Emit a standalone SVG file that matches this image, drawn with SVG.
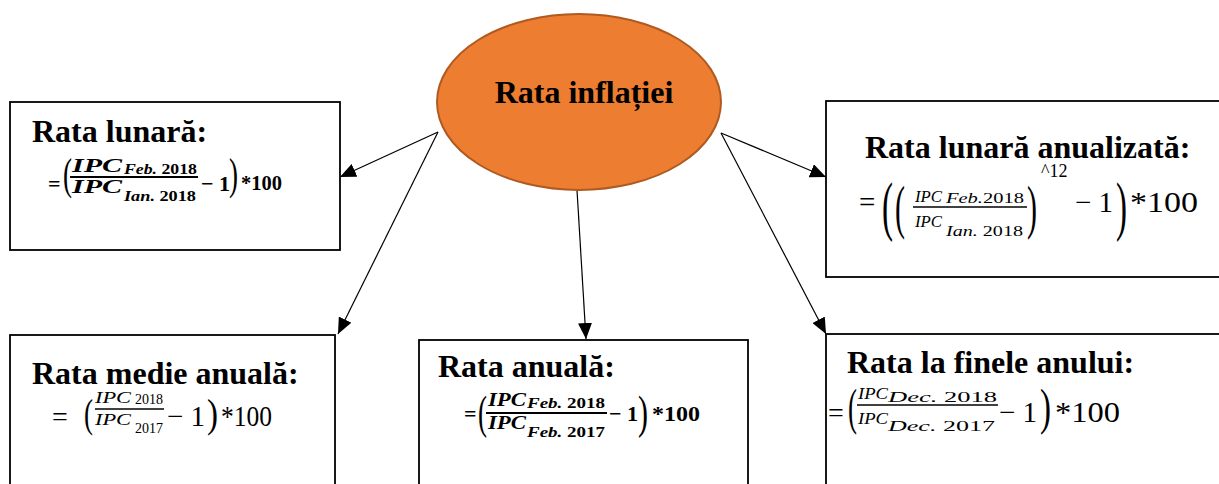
<svg xmlns="http://www.w3.org/2000/svg" width="1219" height="484" viewBox="0 0 1219 484">
<style>
.box{fill:#fff;stroke:#000;stroke-width:1.8}
.title{font-family:"Liberation Serif","Times New Roman",Times,"DejaVu Serif",serif;font-weight:bold;font-size:32px;fill:#000}
.m{font-family:"Liberation Serif","Times New Roman",Times,"DejaVu Serif",serif;fill:#000}
.b{font-weight:bold}
.i{font-style:italic}
.frac{stroke:#000;stroke-width:1.4}
.fracb{stroke:#000;stroke-width:2}
.conn line{stroke:#000;stroke-width:1.2;fill:none}
</style>
<defs>
<marker id="ah" markerUnits="userSpaceOnUse" markerWidth="17" markerHeight="14" refX="16" refY="7" orient="auto">
<path d="M0,0 L16,7 L0,14 z" fill="#000"/>
</marker>
</defs>
<rect width="1219" height="484" fill="#fff"/>

<g id="connectors" class="conn">
<line x1="438" y1="132" x2="340" y2="177" marker-end="url(#ah)"/>
<line x1="438" y1="132" x2="338" y2="334" marker-end="url(#ah)"/>
<line x1="577" y1="190" x2="586" y2="339" marker-end="url(#ah)"/>
<line x1="721" y1="133" x2="826" y2="177" marker-end="url(#ah)"/>
<line x1="721" y1="133" x2="826" y2="334" marker-end="url(#ah)"/>
</g>

<g id="center">
<ellipse cx="579" cy="102" rx="142" ry="88" fill="#ED7D31" stroke="#AE5A21" stroke-width="2"/>
<text class="title" x="584" y="103" text-anchor="middle" font-family="Liberation Serif, serif">Rata inflației</text>
</g>

<g id="rata-lunara">
<rect class="box" x="10" y="102" width="330" height="148"/>
<text class="title" x="32" y="142">Rata lunară:</text>
<text class="m b" x="48" y="191" font-size="22">=</text>
<text class="m" x="63" y="189" font-size="45" textLength="9" lengthAdjust="spacingAndGlyphs">(</text>
<text class="m b i" x="72" y="172" font-size="19" textLength="50" lengthAdjust="spacingAndGlyphs">IPC</text>
<text class="m b" x="124" y="174" font-size="14" textLength="73" lengthAdjust="spacingAndGlyphs"><tspan class="i">Feb.</tspan> 2018</text>
<line class="fracb" x1="70" y1="177" x2="198" y2="177"/>
<text class="m b i" x="72" y="193" font-size="19" textLength="50" lengthAdjust="spacingAndGlyphs">IPC</text>
<text class="m b" x="124" y="201" font-size="14" textLength="72" lengthAdjust="spacingAndGlyphs"><tspan class="i">Ian.</tspan> 2018</text>
<text class="m b" x="201" y="191" font-size="22">− 1</text>
<text class="m" x="229" y="189" font-size="45" textLength="9" lengthAdjust="spacingAndGlyphs">)</text>
<text class="m b" x="241" y="190" font-size="22" textLength="41" lengthAdjust="spacingAndGlyphs">*100</text>
</g>

<g id="rata-lunara-anualizata">
<rect class="box" x="826" y="101" width="400" height="176"/>
<text class="title" x="865" y="158">Rata lunară anualizată:</text>
<text class="m" x="859" y="212" font-size="29">=</text>
<text class="m" x="882" y="228" font-size="66" textLength="11" lengthAdjust="spacingAndGlyphs">(</text>
<text class="m" x="895" y="227" font-size="60" textLength="10" lengthAdjust="spacingAndGlyphs">(</text>
<text class="m i" x="915" y="202" font-size="17" textLength="27" lengthAdjust="spacingAndGlyphs">IPC</text>
<text class="m" x="946" y="203" font-size="15" textLength="78" lengthAdjust="spacingAndGlyphs"><tspan class="i">Feb.</tspan>2018</text>
<line class="frac" x1="913" y1="207" x2="1027" y2="207"/>
<text class="m i" x="915" y="227" font-size="17" textLength="27" lengthAdjust="spacingAndGlyphs">IPC</text>
<text class="m" x="946" y="236" font-size="15" textLength="77" lengthAdjust="spacingAndGlyphs"><tspan class="i">Ian.</tspan> 2018</text>
<text class="m" x="1027" y="227" font-size="60" textLength="10" lengthAdjust="spacingAndGlyphs">)</text>
<text class="m" x="1041" y="177" font-size="18">^12</text>
<text class="m" x="1075" y="212" font-size="29">− 1</text>
<text class="m" x="1116" y="228" font-size="66" textLength="11" lengthAdjust="spacingAndGlyphs">)</text>
<text class="m" x="1130" y="212" font-size="29" textLength="68" lengthAdjust="spacingAndGlyphs">*100</text>
</g>

<g id="rata-medie-anuala">
<rect class="box" x="10" y="335" width="325" height="160"/>
<text class="title" x="32" y="384">Rata medie anuală:</text>
<text class="m" x="52" y="426" font-size="28">=</text>
<text class="m" x="84" y="427" font-size="40" textLength="9" lengthAdjust="spacingAndGlyphs">(</text>
<text class="m i" x="95" y="403" font-size="16" textLength="36" lengthAdjust="spacingAndGlyphs">IPC</text>
<text class="m" x="135" y="404" font-size="14" textLength="28" lengthAdjust="spacingAndGlyphs">2018</text>
<line class="frac" x1="95" y1="409" x2="164" y2="409"/>
<text class="m i" x="95" y="425" font-size="16" textLength="36" lengthAdjust="spacingAndGlyphs">IPC</text>
<text class="m" x="135" y="433" font-size="14" textLength="28" lengthAdjust="spacingAndGlyphs">2017</text>
<text class="m" x="167" y="426" font-size="29">− 1</text>
<text class="m" x="207" y="427" font-size="40" textLength="11" lengthAdjust="spacingAndGlyphs">)</text>
<text class="m" x="221" y="426" font-size="29" textLength="51" lengthAdjust="spacingAndGlyphs">*100</text>
</g>

<g id="rata-anuala">
<rect class="box" x="419" y="340" width="329" height="160"/>
<text class="title" x="438" y="377">Rata anuală:</text>
<text class="m b" x="464" y="421" font-size="22">=</text>
<text class="m" x="478" y="428" font-size="47" textLength="9" lengthAdjust="spacingAndGlyphs">(</text>
<text class="m b i" x="488" y="406" font-size="19" textLength="38" lengthAdjust="spacingAndGlyphs">IPC</text>
<text class="m b" x="527" y="408" font-size="14" textLength="78" lengthAdjust="spacingAndGlyphs"><tspan class="i">Feb.</tspan> 2018</text>
<line class="fracb" x1="486" y1="413" x2="607" y2="413"/>
<text class="m b i" x="488" y="429" font-size="19" textLength="38" lengthAdjust="spacingAndGlyphs">IPC</text>
<text class="m b" x="527" y="437" font-size="14" textLength="78" lengthAdjust="spacingAndGlyphs"><tspan class="i">Feb.</tspan> 2017</text>
<text class="m b" x="609" y="421" font-size="22">− 1</text>
<text class="m" x="638" y="428" font-size="47" textLength="10" lengthAdjust="spacingAndGlyphs">)</text>
<text class="m b" x="652" y="421" font-size="22" textLength="48" lengthAdjust="spacingAndGlyphs">*100</text>
</g>

<g id="rata-finele-anului">
<rect class="box" x="826" y="334" width="400" height="160"/>
<text class="title" x="847" y="373">Rata la finele anului:</text>
<text class="m" x="828" y="422" font-size="28">=</text>
<text class="m" x="848" y="424" font-size="50" textLength="9" lengthAdjust="spacingAndGlyphs">(</text>
<text class="m i" x="858" y="399" font-size="16" textLength="30" lengthAdjust="spacingAndGlyphs">IPC</text>
<text class="m" x="888" y="402" font-size="15" textLength="109" lengthAdjust="spacingAndGlyphs"><tspan class="i">Dec.</tspan> 2018</text>
<line class="frac" x1="857" y1="405" x2="998" y2="405"/>
<text class="m i" x="858" y="424" font-size="16" textLength="30" lengthAdjust="spacingAndGlyphs">IPC</text>
<text class="m" x="888" y="431" font-size="15" textLength="107" lengthAdjust="spacingAndGlyphs"><tspan class="i">Dec.</tspan> 2017</text>
<text class="m" x="999" y="422" font-size="29">− 1</text>
<text class="m" x="1040" y="424" font-size="50" textLength="11" lengthAdjust="spacingAndGlyphs">)</text>
<text class="m" x="1055" y="422" font-size="29" textLength="65" lengthAdjust="spacingAndGlyphs">*100</text>
</g>
</svg>
